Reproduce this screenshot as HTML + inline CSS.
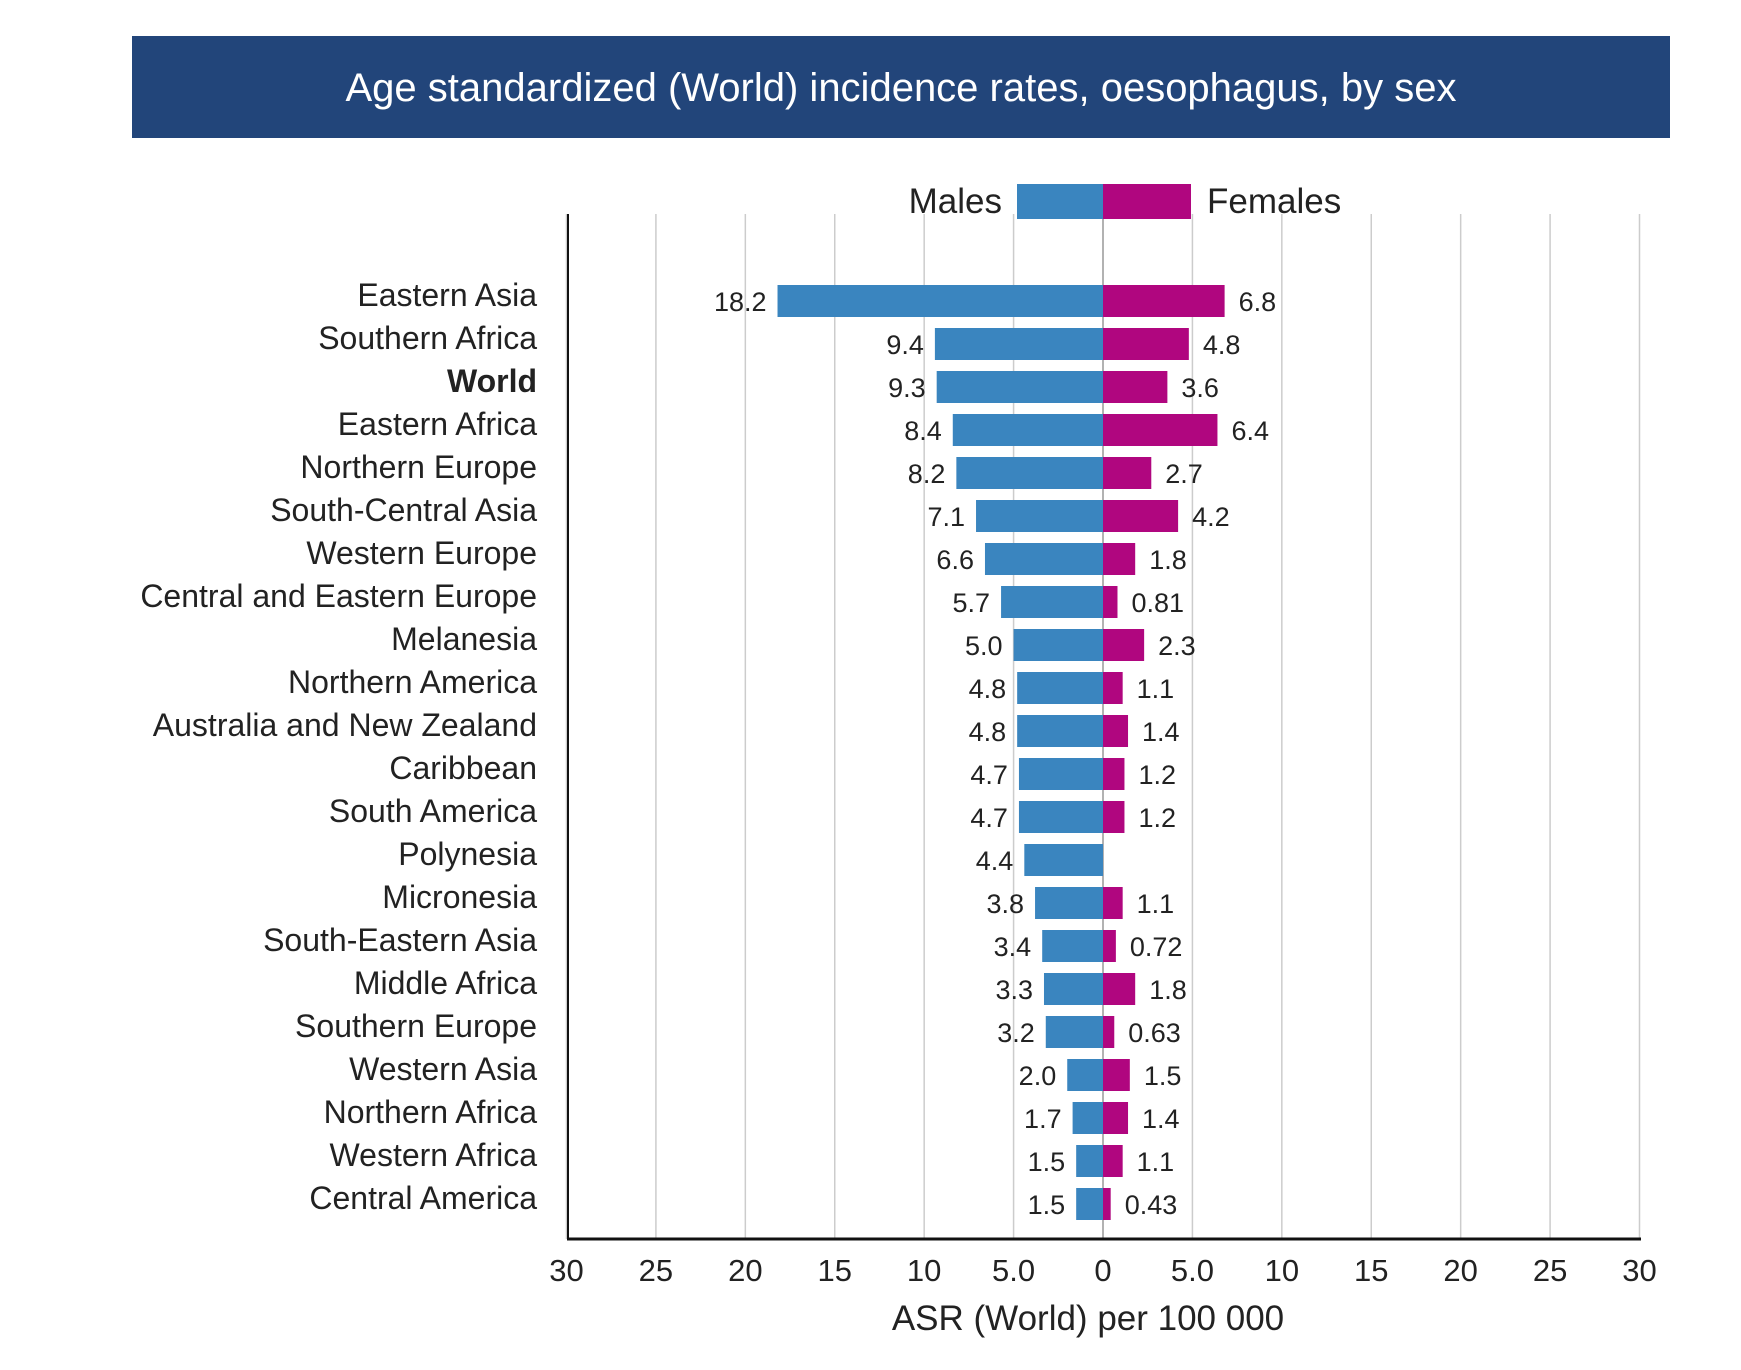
<!DOCTYPE html>
<html><head><meta charset="utf-8"><style>
body{margin:0;background:#fff;width:1741px;height:1365px;overflow:hidden;font-family:"Liberation Sans","DejaVu Sans",sans-serif;}
</style></head><body>
<svg width="1741" height="1365" viewBox="0 0 1741 1365" id="chart">
<rect x="132" y="36" width="1538" height="102" fill="#22457a"/>
<text x="901" y="101" text-anchor="middle" fill="#fff" font-size="40">Age standardized (World) incidence rates, oesophagus, by sex</text>
<g id="grid"></g>
<g id="bars"></g>
<g id="labels"></g>
<g id="axis"></g>
<rect x="1017" y="184" width="86" height="35" fill="#3a85bf"/>
<rect x="1103" y="184" width="88" height="35" fill="#b0067f"/>
<text x="1002" y="213" text-anchor="end" font-size="35" fill="#222">Males</text>
<text x="1207" y="213" font-size="35" fill="#222">Females</text>
<text x="1088" y="1330" text-anchor="middle" font-size="35" fill="#222">ASR (World) per 100 000</text>
</svg>
<script>
const categories=["Eastern Asia","Southern Africa","World","Eastern Africa","Northern Europe","South-Central Asia","Western Europe","Central and Eastern Europe","Melanesia","Northern America","Australia and New Zealand","Caribbean","South America","Polynesia","Micronesia","South-Eastern Asia","Middle Africa","Southern Europe","Western Asia","Northern Africa","Western Africa","Central America"];
const males=[18.2,9.4,9.3,8.4,8.2,7.1,6.6,5.7,5.0,4.8,4.8,4.7,4.7,4.4,3.8,3.4,3.3,3.2,2.0,1.7,1.5,1.5];
const females=[6.8,4.8,3.6,6.4,2.7,4.2,1.8,0.81,2.3,1.1,1.4,1.2,1.2,null,1.1,0.72,1.8,0.63,1.5,1.4,1.1,0.43];
const maleLabels=["18.2","9.4","9.3","8.4","8.2","7.1","6.6","5.7","5.0","4.8","4.8","4.7","4.7","4.4","3.8","3.4","3.3","3.2","2.0","1.7","1.5","1.5"];
const femaleLabels=["6.8","4.8","3.6","6.4","2.7","4.2","1.8","0.81","2.3","1.1","1.4","1.2","1.2","","1.1","0.72","1.8","0.63","1.5","1.4","1.1","0.43"];
const ticks=[-30,-25,-20,-15,-10,-5,0,5,10,15,20,25,30];
const tickLabels=["30","25","20","15","10","5.0","0","5.0","10","15","20","25","30"];
const NS="http://www.w3.org/2000/svg";
const x0=1103, ppu=(1640-567)/60;
const xs=v=>x0+v*ppu;
const y0=301, step=(1204-301)/21, bh=32;
const ys=i=>y0+i*step;
function mk(tag,attrs,parent){const e=document.createElementNS(NS,tag);for(const k in attrs)e.setAttribute(k,attrs[k]);document.getElementById(parent).appendChild(e);return e;}
ticks.forEach((t,i)=>{
  const g=mk('line',{x1:xs(t),x2:xs(t),y1:214,y2:1239,stroke:t===0?'#999':'#ccc','stroke-width':1.5},'grid');
  
  
  const tl=mk('text',{x:xs(t),y:1281,'text-anchor':'middle','font-size':31,fill:'#222'},'axis');
  tl.textContent=tickLabels[i];
  
  
});
const ax=mk('line',{x1:567,x2:1641,y1:1239,y2:1239,stroke:'#111','stroke-width':3},'axis');


const ay=mk('line',{x1:568,x2:568,y1:214,y2:1239,stroke:'#111','stroke-width':2},'axis');


categories.forEach((c,i)=>{
  const y=ys(i);
  const cl=mk('text',{x:537,y:y+5,'text-anchor':'end','font-size':32,fill:'#222','font-weight':c==='World'?'bold':'normal'},'labels');
  cl.textContent=c;
  
  
  const m=males[i];
  const mb=mk('rect',{x:xs(-m),y:y-bh/2,width:xs(0)-xs(-m),height:bh,fill:'#3a85bf'},'bars');
  
  
  const ml=mk('text',{x:xs(-m)-11,y:y+10,'text-anchor':'end','font-size':27,fill:'#222'},'labels');
  ml.textContent=maleLabels[i];
  
  
  const f=females[i];
  if(f!==null){
    const fb=mk('rect',{x:xs(0),y:y-bh/2,width:xs(f)-xs(0),height:bh,fill:'#b0067f'},'bars');
    
    
    const fl=mk('text',{x:xs(f)+14,y:y+10,'font-size':27,fill:'#222'},'labels');
    fl.textContent=femaleLabels[i];
    
    
  }
});
</script>
</body></html>
